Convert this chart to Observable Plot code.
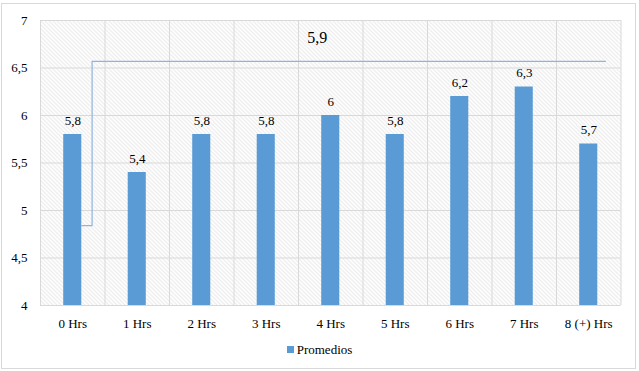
<!DOCTYPE html>
<html><head><meta charset="utf-8">
<script src="https://cdn.jsdelivr.net/npm/d3@7"></script>
<script src="https://cdn.jsdelivr.net/npm/@observablehq/plot@0.6"></script>
<style>
body{margin:0;background:#fff;}
#wrap{position:relative;width:639px;height:371px;font-family:"Liberation Serif","Times New Roman","DejaVu Serif",serif;}
#border{position:absolute;left:1px;top:3px;width:633px;height:364px;border:1px solid #d9d9d9;}
#chart{position:absolute;left:0;top:0;}
#chart svg, #chart svg text{font-family:"Liberation Serif","Times New Roman","DejaVu Serif",serif !important;}
#legend{position:absolute;left:0;top:342px;width:639px;text-align:center;font-size:13px;color:#000;}
#legend span.sw{display:inline-block;width:7px;height:7px;background:#5b9bd5;margin-right:3px;vertical-align:1px;}
</style></head>
<body>
<div id="wrap"><div id="border"></div><div id="chart"></div>
<div id="legend"><span class="sw"></span>Promedios</div></div>
<script>
const categories = ["0 Hrs","1 Hrs","2 Hrs","3 Hrs","4 Hrs","5 Hrs","6 Hrs","7 Hrs","8 (+) Hrs"];
const values = [5.8,5.4,5.8,5.8,6,5.8,6.2,6.3,5.7];
const yTicks = [4,4.5,5,5.5,6,6.5,7];
const leaderX = [0.14,0.3,0.3,8.26];
const leaderY = [4.84,4.84,6.57,6.57];
const avgLabel = "5,9";
const avgLabelX = [3.79];
const avgLabelY = [6.82];

const fmt = v => String(v).replace(".", ",");
const bars = categories.map((c,i)=>({i, c, v: values[i]}));
const leader = leaderX.map((x,k)=>({x, y: leaderY[k]}));
const halfW = 0.14;

const svg = Plot.plot({
  width: 639, height: 340,
  marginLeft: 40, marginRight: 18.5, marginTop: 20, marginBottom: 35,
  style: {fontSize: "13px", color: "#000", background: "transparent"},
  x: {type: "linear", domain: [-0.5, 8.5], ticks: d3.range(categories.length), tickFormat: i => categories[i], tickSize: 0, tickPadding: 13, label: null},
  y: {domain: [4,7], ticks: yTicks, tickFormat: fmt, tickSize: 0, tickPadding: 13, label: null},
  marks: [
    Plot.frame({fill: "url(#hatch)", stroke: "none"}),
    Plot.ruleY(yTicks, {stroke: "#d9d9d9", strokeWidth: 1}),
    Plot.ruleX(d3.range(categories.length+1).map(k => k - 0.5), {stroke: "#d9d9d9", strokeWidth: 1}),
    Plot.rect(bars, {x1: d => d.i - halfW, x2: d => d.i + halfW, y1: 4, y2: "v", fill: "#5b9bd5"}),
    Plot.line(leader, {x: "x", y: "y", stroke: "#8fb4de", strokeWidth: 1.2}),
    Plot.text(bars, {x: "i", y: "v", text: d => fmt(d.v), dy: -14, fontSize: 13}),
    Plot.text([avgLabel], {x: avgLabelX, y: avgLabelY, text: d => d, fontSize: 16})
  ]
});
const ns = "http://www.w3.org/2000/svg";
const defs = document.createElementNS(ns, "defs");
defs.innerHTML = '<pattern id="hatch" patternUnits="userSpaceOnUse" width="4" height="4"><rect width="4" height="4" fill="#fff"/><path d="M-1,-1 L1,1 M0,0 L4,4 M3,3 L5,5" stroke="#dcdcdc" stroke-width="0.9"/></pattern>';
svg.insertBefore(defs, svg.firstChild);
document.getElementById("chart").appendChild(svg);
</script>
</body></html>
